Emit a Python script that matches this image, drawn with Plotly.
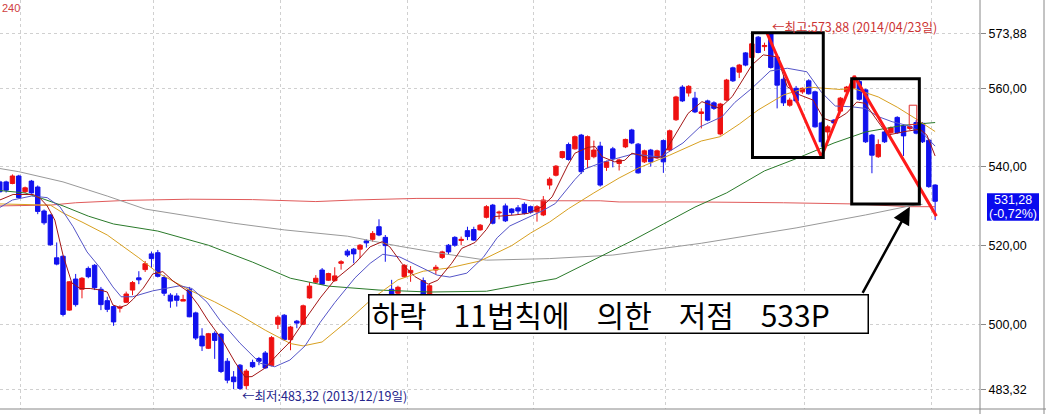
import plotly.graph_objects as go

# ── Daily candles, one per trading-day slot (late Oct 2013 .. early Jun 2014) ──
slots = list(range(149))

opens = [
    536.2, 536.2, 535.8, 537.7, 533.7, 536.4, 534.9, 528.8, 527.8, 516.9,
    517.3, 503.6, 511.5, 508.9, 514.2, 515.0, 508.9, 506.0, 504.5, 504.1,
    505.6, 508.7, 511.8, 513.9, 517.9, 518.2, 511.9, 507.4, 507.2, 505.9,
    508.9, 502.9, 497.0, 493.9, 497.7, 497.5, 490.6, 486.6, 489.6, 484.4,
    490.3, 491.3, 492.7, 489.5, 500.0, 502.3, 496.1, 500.8, 500.0, 506.7,
    510.7, 513.8, 511.2, 511.1, 515.5, 518.6, 519.1, 519.1, 521.2, 521.6,
    524.8, 522.1, 508.9, 507.9, 512.1, 513.1, 507.2, 511.1, 506.0, 513.8,
    517.0, 520.1, 522.1, 521.3, 523.8, 524.1, 524.0, 527.2, 530.3, 528.3,
    530.1, 529.3, 529.6, 530.5, 529.9, 528.6, 527.8, 535.4, 537.9, 542.4,
    545.7, 544.6, 548.1, 541.9, 542.6, 545.3, 539.9, 544.6, 540.9, 545.1,
    549.4, 545.8, 541.3, 544.3, 542.3, 546.7, 544.3, 552.0, 560.3, 558.8,
    557.5, 553.6, 556.8, 556.3, 548.4, 557.0, 565.2, 564.1, 569.0, 567.8,
    573.0, 570.6, 573.8, 567.9, 562.3, 555.7, 560.0, 559.1, 561.9, 559.1,
    551.2, 548.9, 551.9, 554.2, 559.1, 560.0, 561.7, 559.6, 548.1, 542.6,
    548.9, 548.7, 552.6, 550.4, 549.8, 551.3, 551.1, 546.8, 535.4,
]
highs = [
    536.5, 536.5, 538.1, 538.0, 535.0, 536.7, 535.3, 529.2, 528.0, 520.8,
    517.5, 511.0, 512.8, 512.0, 514.7, 515.3, 509.5, 507.0, 504.8, 504.8,
    508.3, 511.0, 513.5, 516.1, 518.5, 518.9, 512.5, 507.9, 507.9, 507.5,
    509.5, 503.2, 499.0, 497.8, 498.2, 497.8, 491.4, 488.1, 489.9, 488.6,
    491.0, 491.7, 493.2, 497.0, 502.3, 502.6, 499.6, 501.1, 505.0, 510.7,
    512.5, 514.3, 513.1, 514.5, 516.3, 519.1, 519.4, 520.4, 521.6, 523.7,
    526.7, 522.7, 511.3, 509.8, 515.3, 514.8, 507.4, 511.9, 510.2, 515.1,
    518.7, 520.4, 522.4, 522.3, 524.8, 524.8, 525.5, 530.3, 530.6, 528.9,
    530.7, 529.5, 530.3, 531.0, 530.2, 530.3, 532.6, 537.4, 540.5, 544.1,
    546.2, 548.0, 548.4, 548.0, 546.7, 546.4, 541.6, 545.1, 542.1, 547.2,
    549.7, 546.1, 544.4, 544.6, 544.4, 547.0, 549.5, 558.1, 560.8, 560.8,
    559.1, 554.9, 557.1, 556.7, 556.3, 562.4, 565.5, 566.2, 569.2, 571.6,
    573.3, 571.6, 573.88, 568.2, 563.1, 557.6, 560.6, 560.2, 562.3, 559.4,
    551.5, 550.7, 552.2, 557.8, 560.6, 562.9, 562.4, 559.9, 548.4, 547.0,
    549.2, 550.3, 552.9, 550.7, 550.6, 551.9, 551.4, 547.1, 535.6,
]
lows = [
    533.5, 533.5, 535.6, 532.0, 533.3, 533.2, 528.0, 525.3, 520.0, 515.0,
    502.0, 503.4, 504.5, 506.6, 511.7, 508.7, 503.6, 503.1, 499.6, 503.0,
    505.4, 507.4, 510.2, 513.3, 514.3, 511.9, 507.2, 504.2, 504.5, 505.9,
    501.8, 496.0, 493.2, 493.7, 491.2, 487.6, 485.0, 483.5, 483.32, 483.5,
    488.9, 489.6, 488.7, 489.3, 498.8, 495.8, 493.4, 499.0, 499.8, 506.5,
    510.5, 510.0, 511.0, 510.8, 513.9, 517.1, 515.5, 516.8, 519.5, 521.0,
    522.4, 515.9, 504.5, 506.5, 511.8, 510.8, 504.5, 505.0, 505.5, 512.7,
    516.6, 517.8, 519.7, 520.1, 521.4, 521.2, 523.8, 526.9, 525.4, 526.7,
    526.0, 527.8, 528.0, 527.9, 528.1, 526.1, 527.5, 534.3, 537.6, 542.1,
    541.6, 544.4, 538.2, 539.7, 542.2, 535.0, 539.0, 539.9, 539.1, 544.8,
    545.8, 538.3, 541.0, 540.1, 542.0, 538.5, 544.0, 551.7, 556.5, 557.9,
    553.7, 549.8, 551.6, 554.5, 548.0, 556.8, 561.6, 562.6, 565.6, 567.6,
    568.9, 569.5, 565.0, 554.9, 555.5, 555.3, 556.3, 558.6, 558.4, 550.0,
    545.1, 547.3, 551.0, 553.9, 558.8, 559.7, 556.9, 546.1, 538.4, 542.3,
    546.1, 548.4, 548.4, 542.8, 549.4, 548.3, 546.1, 534.7, 526.5,
]
closes = [
    533.7, 534.1, 537.7, 532.2, 534.7, 533.4, 528.7, 525.8, 520.2, 515.3,
    502.5, 510.8, 505.0, 511.7, 512.1, 509.3, 505.0, 503.8, 500.6, 504.3,
    507.7, 510.6, 511.3, 515.4, 516.7, 512.2, 507.9, 505.9, 506.1, 506.3,
    501.9, 496.5, 494.5, 497.6, 495.9, 488.0, 485.8, 485.4, 483.7, 488.1,
    489.2, 490.6, 488.9, 496.6, 501.8, 496.1, 499.3, 500.3, 504.7, 509.7,
    511.7, 510.2, 512.9, 512.3, 515.9, 517.6, 517.9, 520.1, 520.7, 523.1,
    522.7, 520.0, 505.0, 509.4, 515.0, 513.7, 505.0, 505.5, 509.8, 514.5,
    518.4, 518.4, 520.1, 521.6, 522.3, 521.4, 525.2, 529.9, 525.7, 528.5,
    526.3, 528.4, 528.8, 528.2, 528.5, 529.9, 531.6, 536.9, 540.2, 543.9,
    541.9, 547.7, 538.8, 547.7, 544.3, 535.4, 541.3, 542.1, 541.8, 547.0,
    546.1, 538.5, 544.1, 541.3, 544.1, 541.3, 549.2, 557.8, 556.8, 560.5,
    554.0, 554.0, 551.9, 554.9, 556.0, 562.1, 561.9, 565.9, 565.9, 571.3,
    569.1, 570.9, 565.3, 560.8, 556.3, 557.0, 556.8, 560.0, 558.6, 550.2,
    546.4, 550.2, 551.2, 557.5, 560.3, 562.1, 557.2, 546.4, 543.0, 545.7,
    546.4, 550.0, 548.7, 547.9, 550.3, 548.6, 546.4, 535.0, 531.28,
]

# ── Moving averages at sample slots ──
ma5_x = [0, 2.1, 5.3, 6.4, 7.5, 8.7, 10, 11.4, 12.7, 14.3, 15.9, 17, 17.9, 19, 20.1,
         21.1, 22.7, 24.2, 25.8, 27.4, 29.8, 31.4, 32.9, 35.2, 37.2, 38.8, 39.9, 41.9,
         44, 45.9, 48.6, 50.7, 53, 56.2, 58.6, 60.5, 61.7, 63.6, 65.7, 67.8, 69.3, 71.5,
         73.1, 75.2, 77, 78.3, 81.5, 83.6, 85.8, 87.4, 89.9, 91, 93.1, 94.2, 95.3, 97.3,
         98.9, 100, 101.3, 102.6, 104.8, 106.8, 108.9, 111.1, 112.7, 113.9, 115.9, 117.4,
         119, 120.8, 123, 124.6, 126.6, 128.7, 130.3, 131.8, 134, 135.6, 136.9, 138.8,
         140.5, 143.2, 145.6, 146.7, 148]
ma5_y = [531.6, 533.0, 533.0, 532.0, 530.1, 526.5, 517.6, 510.5, 509.1, 509.1, 508.7,
         508.2, 504.9, 504.3, 504.9, 506.4, 509.2, 512.8, 513.4, 511.0, 508.3, 504.9,
         501.1, 496.0, 490.4, 486.6, 486.7, 488.8, 492.4, 495.5, 501.9, 506.7, 511.3,
         515.5, 519.7, 521.0, 519.7, 515.5, 512.1, 510.2, 511.2, 515.5, 519.3, 520.8,
         524.1, 527.4, 527.8, 528.2, 529.9, 532.4, 540.5, 543.5, 545.0, 545.2, 542.6,
         541.3, 541.7, 543.5, 543.0, 542.2, 542.6, 548.1, 553.6, 556.6, 555.7, 554.9,
         557.9, 561.7, 565.9, 568.5, 568.0, 560.4, 558.3, 557.0, 552.4, 551.5, 553.7,
         556.5, 556.2, 551.9, 548.1, 549.0, 549.6, 548.1, 542.8]

ma10_x = [0, 2, 5, 7.5, 9.5, 11.6, 13.8, 15.8, 17.9, 19.2, 21, 24.2, 28.5, 30.4, 32.8,
          34.8, 38, 41.2, 43.5, 45.9, 48.3, 50.7, 53, 56.2, 58.6, 60.6, 63.3, 66, 69.2,
          71.2, 73.9, 76.5, 78.7, 80.7, 82.8, 85.8, 87.9, 91, 92.6, 95.4, 100.2, 104.5,
          108.1, 110.8, 114.3, 116.3, 119, 121.9, 124.6, 127.7, 130, 132.2, 134.8, 136.9,
          139, 141.2, 143.7, 145.9, 148]
ma10_y = [529.7, 531.6, 532.6, 532.2, 529.9, 524.8, 518.4, 514.5, 509.5, 507.0, 507.0,
          508.5, 509.8, 509.1, 505.6, 501.1, 495.2, 490.1, 489.2, 490.9, 494.5, 500.5,
          505.5, 511.8, 515.5, 517.8, 517.1, 515.0, 512.5, 512.0, 513.0, 517.0, 522.0,
          525.0, 526.5, 528.8, 530.7, 536.8, 539.5, 541.2, 543.3, 542.5, 546.1, 550.2,
          552.8, 556.4, 560.0, 564.4, 565.1, 564.2, 559.0, 555.5, 555.3, 554.9, 552.8,
          551.5, 550.5, 548.8, 545.3]

ma20_x = [0, 5, 8, 10, 13, 17, 22, 25, 30, 34, 38, 42, 46, 48, 51, 55, 59, 63, 67, 71,
          76, 81, 84, 87, 90, 94, 98, 101, 106, 111, 114, 117, 120, 124, 128, 133, 135,
          139, 142, 145, 148]
ma20_y = [530.6, 530.3, 530.3, 528.3, 526.0, 522.7, 516.9, 513.1, 508.7, 505.7, 502.3,
          498.5, 495.1, 494.5, 495.5, 500.8, 506.6, 511.3, 513.5, 514.3, 516.1, 520.0,
          523.2, 526.0, 529.4, 533.4, 537.2, 539.7, 543.0, 546.6, 547.7, 550.9, 554.5,
          558.3, 560.3, 559.7, 560.0, 557.8, 555.2, 552.2, 549.0]

ma60_x = [0, 4, 7, 10, 14, 18, 25, 33, 40, 46, 52, 60, 68, 77, 84, 88, 92, 96, 100,
          105, 110, 115, 121, 126, 132, 137, 143, 148]
ma60_y = [534.0, 533.4, 531.8, 530.1, 527.5, 525.5, 523.7, 520.1, 515.8, 511.7, 509.7,
          508.7, 508.2, 508.4, 510.5, 511.6, 514.8, 517.9, 521.2, 525.5, 529.8, 533.4,
          539.0, 542.1, 546.1, 548.9, 550.6, 551.3]

ma120_x = [0, 3, 10, 17, 23, 28, 37, 45, 55, 63, 70, 77, 87, 97, 105, 111, 126, 137,
           144, 146]
ma120_y = [539.6, 538.8, 536.2, 532.6, 529.3, 528.0, 525.7, 524.0, 522.4, 519.9, 518.0,
           516.3, 516.7, 517.6, 519.3, 520.6, 524.5, 527.8, 530.1, 530.5]

ma240_x = [0, 8, 12, 20, 30, 40, 50, 56, 66, 82, 84, 95, 98, 110, 124, 135, 144, 148]
ma240_y = [530.1, 530.3, 530.9, 531.5, 531.8, 531.7, 531.2, 531.6, 532.0, 532.0, 531.4,
           531.4, 531.1, 531.1, 530.9, 530.6, 529.9, 529.9]

# ── Axes: month-start gridlines and price ticks ──
month_grid = [3.35, 24.25, 44.35, 64.45, 84.4, 105.4, 127.25, 147.5]
price_ticks = [483.32, 500.0, 520.0, 540.0, 560.0, 573.88]
price_labels = ["483,32", "500,00", "520,00", "540,00", "560,00", "573,88"]

# ── Hand-drawn analysis marks ──
zigzag_x = [121.4, 130.0, 135.2, 148.2]
zigzag_y = [574.0, 542.6, 563.1, 527.5]
box_x0 = [119.1, 134.8]
box_x1 = [130.3, 145.5]
box_y0 = [542.4, 530.6]
box_y1 = [574.1, 562.4]
mark_x0, mark_x1, mark_y0, mark_y1 = 143.9, 145.1, 550.8, 555.7
arrow_head = (144.0, 529.9)
arrow_tail = (136.4, 507.6)

last_price = "531,28"
last_change = "(-0,72%)"

# figure geometry (px)
W, H = 1046, 414
PLOT_R, PLOT_B = 980, 409

UP, DOWN = "#ee1111", "#1111ee"
KR = "Noto Sans CJK KR"
NB = "\u00a0" * 4   # wide gap between words of the caption

fig = go.Figure()

fig.add_trace(go.Candlestick(
    x=slots, open=opens, high=highs, low=lows, close=closes,
    increasing=dict(line=dict(color=UP, width=1), fillcolor=UP),
    decreasing=dict(line=dict(color=DOWN, width=1), fillcolor=DOWN),
    whiskerwidth=0, hoverinfo="skip", showlegend=False,
))

ma_cfg = [
    (ma240_x, ma240_y, "#e05a5a"),
    (ma120_x, ma120_y, "#999999"),
    (ma60_x, ma60_y, "#2a7a2a"),
    (ma20_x, ma20_y, "#d8a020"),
    (ma10_x, ma10_y, "#5555c8"),
    (ma5_x, ma5_y, "#a31515"),
]
for xs, ys, colour in ma_cfg:
    fig.add_trace(go.Scatter(x=xs, y=ys, mode="lines", hoverinfo="skip",
                             line=dict(color=colour, width=1), showlegend=False))

# red zig-zag
fig.add_trace(go.Scatter(x=zigzag_x, y=zigzag_y, mode="lines", hoverinfo="skip",
                         line=dict(color="#ff1a1a", width=3), showlegend=False))

shapes = []
for x0, x1, y0, y1 in zip(box_x0, box_x1, box_y0, box_y1):
    shapes.append(dict(type="rect", xref="x", yref="y", x0=x0, x1=x1, y0=y0, y1=y1,
                       line=dict(color="black", width=3)))
shapes.append(dict(type="rect", xref="x", yref="y", x0=mark_x0, x1=mark_x1,
                   y0=mark_y0, y1=mark_y1, line=dict(color="#e03030", width=1)))

# frame lines: right axis, outer right border, bottom
shapes.append(dict(type="line", xref="paper", yref="paper", x0=1, x1=1,
                   y0=-(H - PLOT_B) / PLOT_B, y1=1, line=dict(color="#888888", width=1)))
shapes.append(dict(type="line", xref="paper", yref="paper", x0=1044 / PLOT_R, x1=1044 / PLOT_R,
                   y0=-(H - PLOT_B) / PLOT_B, y1=1, line=dict(color="#888888", width=1)))
shapes.append(dict(type="line", xref="paper", yref="paper", x0=0, x1=W / PLOT_R,
                   y0=0, y1=0, line=dict(color="#888888", width=1)))

# last price box
shapes.append(dict(type="rect", xref="paper", yref="y", x0=987 / PLOT_R, x1=1039 / PLOT_R,
                   y0=526.3, y1=533.3, line=dict(width=0), fillcolor="#0a0aee"))

annotations = [
    dict(xref="x", yref="y", x=121.9, y=575.8, xanchor="left", yanchor="middle",
         text="←최고:573,88 (2014/04/23일)", showarrow=False,
         font=dict(family=KR, size=12.5, color="#cc3333")),
    dict(xref="x", yref="y", x=38.0, y=481.8, xanchor="left", yanchor="middle",
         text="←최저:483,32 (2013/12/19일)", showarrow=False,
         font=dict(family=KR, size=12.5, color="#24248c")),
    dict(xref="paper", yref="paper", x=0, y=1.0, xanchor="left", yanchor="top",
         text="240", showarrow=False, font=dict(family="Liberation Sans", size=11, color="#d04040")),
    dict(xref="paper", yref="y", x=1013 / PLOT_R, y=531.6, xanchor="center", yanchor="middle",
         text=last_price, showarrow=False,
         font=dict(family="Liberation Sans", size=12.5, color="white")),
    dict(xref="paper", yref="y", x=1013 / PLOT_R, y=528.1, xanchor="center", yanchor="middle",
         text=last_change, showarrow=False,
         font=dict(family="Liberation Sans", size=12.5, color="white")),
    # arrow to the 533P low
    dict(xref="x", yref="y", x=arrow_head[0], y=arrow_head[1],
         axref="x", ayref="y", ax=arrow_tail[0], ay=arrow_tail[1],
         text="", showarrow=True, arrowhead=2, arrowsize=1.4, arrowwidth=2.5,
         arrowcolor="black"),
    # caption box
    dict(xref="paper", yref="paper", x=368 / PLOT_R, y=(PLOT_B - 294.3) / PLOT_B,
         xanchor="left", yanchor="top", showarrow=False,
         text="하락" + NB + "11법칙에" + NB + "의한" + NB + "저점" + NB + "533P",
         align="left", valign="middle", width=494, height=33, borderpad=2,
         bgcolor="white", bordercolor="black", borderwidth=1.5,
         font=dict(family=KR, size=30, color="black")),
]

fig.update_layout(
    width=W, height=H,
    margin=dict(l=0, r=W - PLOT_R, t=0, b=H - PLOT_B),
    paper_bgcolor="white", plot_bgcolor="white",
    showlegend=False, boxgap=0.3, boxgroupgap=0,
    shapes=shapes, annotations=annotations,
    xaxis=dict(range=[0.03, 155.1], tickvals=month_grid, showticklabels=False,
               ticks="", showgrid=True, gridcolor="#d0d0d0", griddash="3px,3px",
               zeroline=False, showline=False, rangeslider=dict(visible=False)),
    yaxis=dict(side="right", range=[478.46, 582.45], tickvals=price_ticks,
               ticktext=price_labels, ticks="outside", ticklen=5, tickcolor="#888888",
               showgrid=True, gridcolor="#d0d0d0", griddash="3px,3px", zeroline=False,
               showline=False, automargin=False,
               tickfont=dict(family="Liberation Sans", size=12.5, color="black")),
)

# the page body has a default 8px margin; drop it so the figure sits at the corner
fig.write_html("out.html", config={"displayModeBar": False},
               post_script="document.body.style.margin='0px';")
